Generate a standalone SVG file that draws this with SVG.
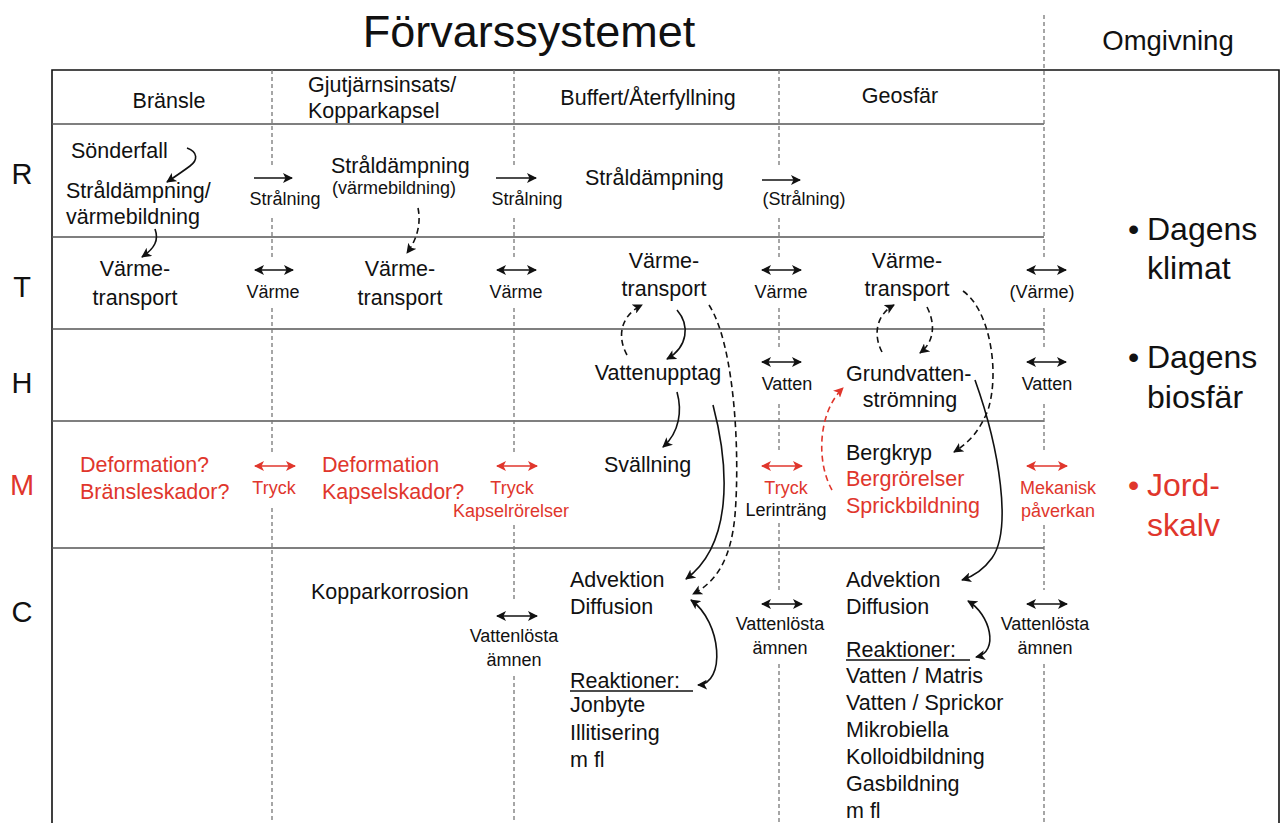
<svg xmlns="http://www.w3.org/2000/svg" width="1284" height="823" viewBox="0 0 1284 823">
  <defs>
    <marker id="ah" viewBox="0 0 10 10" refX="9" refY="5" markerWidth="10" markerHeight="10" markerUnits="userSpaceOnUse" orient="auto-start-reverse">
      <path d="M0,0 L10,5 L0,10 L2.5,5 z" fill="#111"/>
    </marker>
    <marker id="ahr" viewBox="0 0 10 10" refX="9" refY="5" markerWidth="10" markerHeight="10" markerUnits="userSpaceOnUse" orient="auto-start-reverse">
      <path d="M0,0 L10,5 L0,10 L2.5,5 z" fill="#e0362c"/>
    </marker>
  </defs>
  <style>
    text { font-family: "Liberation Sans", Arial, sans-serif; fill: #111; }
    .t { font-size: 21.5px; }
    .s { font-size: 18px; }
    .c { text-anchor: middle; }
    .red { fill: #e0362c; }
    .row { font-size: 29px; text-anchor: middle; }
    .big { font-size: 32px; }
    .dot { font-size: 32px; }
    .grid { stroke: #555; stroke-width: 1.3; }
    .col { stroke: #777; stroke-width: 1.3; stroke-dasharray: 4 3; fill: none; }
    .arr { stroke: #111; stroke-width: 1.6; fill: none; marker-end: url(#ah); }
    .dbl { stroke: #111; stroke-width: 1.6; fill: none; marker-end: url(#ah); marker-start: url(#ah); }
    .dbr { stroke: #e0362c; stroke-width: 1.6; fill: none; marker-end: url(#ahr); marker-start: url(#ahr); }
    .arrr { stroke: #e0362c; stroke-width: 1.6; fill: none; marker-end: url(#ahr); }
    .dash { stroke-dasharray: 6 4; }
  </style>
  <rect width="1284" height="823" fill="#fff"/>

  <!-- titles -->
  <text x="529" y="47" font-size="45" class="c">Förvarssystemet</text>
  <text x="1168" y="50" font-size="27.5" class="c">Omgivning</text>

  <!-- frame and rows -->
  <g id="frame">
    <path d="M52,823 V70 H1279 V823" fill="none" stroke="#111" stroke-width="1.6"/>
    <line class="grid" x1="52" y1="124" x2="1044" y2="124" stroke="#222"/>
    <line class="grid" x1="52" y1="237" x2="1044" y2="237"/>
    <line class="grid" x1="52" y1="329" x2="1044" y2="329"/>
    <line class="grid" x1="52" y1="421" x2="1044" y2="421"/>
    <line class="grid" x1="52" y1="548" x2="1044" y2="548"/>
  </g>

  <!-- column boundaries, broken where the exchange labels sit -->
  <g id="columns">
    <path class="col" d="M272,70 V166 M272,218 V258 M272,308 V452 M272,508 V823"/>
    <path class="col" d="M514,70 V166 M514,218 V258 M514,308 V452 M514,525 V602 M514,676 V823"/>
    <path class="col" d="M779,70 V166 M779,218 V258 M779,308 V350 M779,404 V452 M779,523 V590 M779,664 V823"/>
    <path class="col" d="M1044,15 V258 M1044,308 V350 M1044,404 V452 M1044,525 V590 M1044,664 V823"/>
  </g>

  <!-- column headers -->
  <g id="headers">
    <text class="t c" x="169" y="108">Bränsle</text>
    <text class="t" x="308" y="92">Gjutjärnsinsats/</text>
    <text class="t" x="308" y="118">Kopparkapsel</text>
    <text class="t c" x="648" y="105">Buffert/Återfyllning</text>
    <text class="t c" x="900" y="103">Geosfär</text>
  </g>

  <!-- row labels -->
  <g id="rows">
    <text class="row" x="22" y="184">R</text>
    <text class="row" x="22" y="297">T</text>
    <text class="row" x="22" y="393">H</text>
    <text class="row red" x="22" y="495">M</text>
    <text class="row" x="22" y="622">C</text>
  </g>

  <!-- fuel -->
  <g id="bransle">
    <text class="t" x="71" y="158">Sönderfall</text>
    <text class="t" x="66" y="198">Stråldämpning/</text>
    <text class="t" x="66" y="224">värmebildning</text>
    <text class="t c" x="135" y="276">Värme-</text>
    <text class="t c" x="135" y="305">transport</text>
    <text class="t red" x="80" y="472">Deformation?</text>
    <text class="t red" x="80" y="499">Bränsleskador?</text>
  </g>

  <!-- canister -->
  <g id="kapsel">
    <text class="t" x="331" y="173">Stråldämpning</text>
    <text class="s" x="332" y="194">(värmebildning)</text>
    <text class="t c" x="400" y="276">Värme-</text>
    <text class="t c" x="400" y="305">transport</text>
    <text class="t red" x="322" y="472">Deformation</text>
    <text class="t red" x="322" y="499">Kapselskador?</text>
    <text class="t" x="311" y="599">Kopparkorrosion</text>
  </g>

  <!-- buffer / backfill -->
  <g id="buffert">
    <text class="t" x="585" y="185">Stråldämpning</text>
    <text class="t c" x="664" y="268">Värme-</text>
    <text class="t c" x="664" y="296">transport</text>
    <text class="t c" x="658" y="380">Vattenupptag</text>
    <text class="t" x="604" y="472">Svällning</text>
    <text class="t" x="570" y="587">Advektion</text>
    <text class="t" x="570" y="614">Diffusion</text>
    <text class="t" x="570" y="688">Reaktioner:</text>
    <line x1="570" y1="691" x2="693" y2="691" stroke="#111" stroke-width="1.6"/>
    <text class="t" x="570" y="712">Jonbyte</text>
    <text class="t" x="570" y="740">Illitisering</text>
    <text class="t" x="570" y="767">m fl</text>
  </g>

  <!-- geosphere -->
  <g id="geosfar">
    <text class="t c" x="907" y="268">Värme-</text>
    <text class="t c" x="907" y="296">transport</text>
    <text class="t" x="846" y="381">Grundvatten-</text>
    <text class="t c" x="910" y="407">strömning</text>
    <text class="t" x="846" y="460">Bergkryp</text>
    <text class="t red" x="846" y="486">Bergrörelser</text>
    <text class="t red" x="846" y="513">Sprickbildning</text>
    <text class="t" x="846" y="587">Advektion</text>
    <text class="t" x="846" y="614">Diffusion</text>
    <text class="t" x="846" y="657">Reaktioner:</text>
    <line x1="846" y1="660" x2="970" y2="660" stroke="#111" stroke-width="1.6"/>
    <text class="t" x="846" y="683">Vatten / Matris</text>
    <text class="t" x="846" y="710">Vatten / Sprickor</text>
    <text class="t" x="846" y="737">Mikrobiella</text>
    <text class="t" x="846" y="764">Kolloidbildning</text>
    <text class="t" x="846" y="791">Gasbildning</text>
    <text class="t" x="846" y="818">m fl</text>
  </g>

  <!-- surroundings -->
  <g id="omgivning">
    <text class="dot" x="1128" y="240">•</text>
    <text class="big" x="1147" y="240">Dagens</text>
    <text class="big" x="1147" y="279">klimat</text>
    <text class="dot" x="1128" y="368">•</text>
    <text class="big" x="1147" y="368">Dagens</text>
    <text class="big" x="1147" y="408">biosfär</text>
    <text class="dot red" x="1128" y="496">•</text>
    <text class="big red" x="1147" y="496">Jord-</text>
    <text class="big red" x="1147" y="536">skalv</text>
  </g>

  <!-- exchange labels between columns -->
  <g id="exchange">
    <text class="s c" x="285" y="205">Strålning</text>
    <text class="s c" x="527" y="205">Strålning</text>
    <text class="s c" x="804" y="205">(Strålning)</text>
    <text class="s c" x="273" y="298">Värme</text>
    <text class="s c" x="516" y="298">Värme</text>
    <text class="s c" x="781" y="298">Värme</text>
    <text class="s c" x="1042" y="298">(Värme)</text>
    <text class="s c" x="787" y="390">Vatten</text>
    <text class="s c" x="1047" y="390">Vatten</text>
    <text class="s c red" x="274" y="494">Tryck</text>
    <text class="s c red" x="512" y="494">Tryck</text>
    <text class="s c red" x="511" y="517">Kapselrörelser</text>
    <text class="s c red" x="786" y="494">Tryck</text>
    <text class="s c" x="786" y="516">Lerinträng</text>
    <text class="s c red" x="1058" y="494">Mekanisk</text>
    <text class="s c red" x="1058" y="517">påverkan</text>
    <text class="s c" x="514" y="642">Vattenlösta</text>
    <text class="s c" x="514" y="666">ämnen</text>
    <text class="s c" x="780" y="630">Vattenlösta</text>
    <text class="s c" x="780" y="654">ämnen</text>
    <text class="s c" x="1045" y="630">Vattenlösta</text>
    <text class="s c" x="1045" y="654">ämnen</text>
  </g>

  <!-- connectors -->
  <g id="connectors">
    <!-- straight exchange arrows -->
    <line class="arr" x1="254" y1="178" x2="292" y2="178"/>
    <line class="arr" x1="496" y1="178" x2="536" y2="178"/>
    <line class="arr" x1="762" y1="180" x2="800" y2="180"/>
    <line class="dbl" x1="255" y1="270" x2="293" y2="270"/>
    <line class="dbl" x1="497" y1="270" x2="536" y2="270"/>
    <line class="dbl" x1="762" y1="270" x2="801" y2="270"/>
    <line class="dbl" x1="1027" y1="270" x2="1066" y2="270"/>
    <line class="dbl" x1="762" y1="362" x2="801" y2="362"/>
    <line class="dbl" x1="1027" y1="362" x2="1066" y2="362"/>
    <line class="dbr" x1="255" y1="466" x2="295" y2="466"/>
    <line class="dbr" x1="497" y1="466" x2="537" y2="466"/>
    <line class="dbr" x1="762" y1="466" x2="802" y2="466"/>
    <line class="dbr" x1="1027" y1="466" x2="1067" y2="466"/>
    <line class="dbl" x1="497" y1="616" x2="537" y2="616"/>
    <line class="dbl" x1="762" y1="604" x2="802" y2="604"/>
    <line class="dbl" x1="1027" y1="604" x2="1067" y2="604"/>

    <!-- fuel couplings -->
    <path class="arr" d="M187,148 C198,152 198,160 190,166 C182,172 176,176 167,182"/>
    <path class="arr" d="M155,229 C159,240 155,248 142,257"/>
    <!-- canister coupling -->
    <path class="arr dash" d="M418,208 C421,222 418,238 407,253"/>

    <!-- buffer couplings -->
    <path class="arr dash" d="M627,355 C617,337 620,316 642,305"/>
    <path class="arr" d="M677,310 C690,325 688,347 667,359"/>
    <path class="arr" d="M677,392 C682,410 680,432 663,447"/>
    <path class="arr" d="M713,405 C730,470 732,545 686,579"/>
    <path class="arr dash" d="M709,305 C735,345 740,455 735,515 C731,560 716,582 693,594"/>
    <path class="dbl" d="M691,600 C722,622 726,684 698,685"/>

    <!-- geosphere couplings -->
    <path class="arr dash" d="M882,352 C873,335 876,315 894,305"/>
    <path class="arr dash" d="M927,307 C936,325 934,342 920,353"/>
    <path class="arr dash" d="M963,291 C990,310 1000,372 988,410 C980,430 970,442 954,452"/>
    <path class="arr" d="M975,380 C1000,450 1012,530 992,558 C984,569 975,576 962,580"/>
    <path class="arrr dash" d="M832,490 C816,462 818,412 843,388"/>
    <path class="dbl" d="M968,601 C990,614 1000,652 976,657"/>
  </g>
</svg>
